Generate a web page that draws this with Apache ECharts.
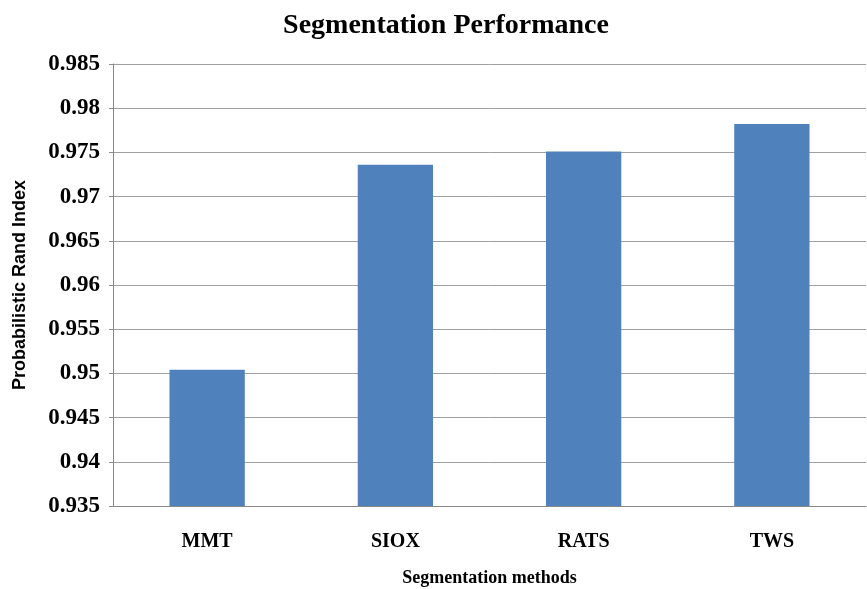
<!DOCTYPE html>
<html>
<head>
<meta charset="utf-8">
<script src="https://cdn.jsdelivr.net/npm/echarts@6/dist/echarts.min.js"></script>
<style>
  html, body { margin: 0; padding: 0; background: #fff; }
  #chart { width: 867px; height: 589px; }
</style>
</head>
<body>
<div id="chart"></div>
<script>
// values
const methods = ['MMT', 'SIOX', 'RATS', 'TWS'];
const randIndex = [0.9504, 0.9736, 0.9751, 0.9782];
const yMin = 0.935;
const yMax = 0.985;
const yStep = 0.005;

const serif = '"Liberation Serif", "Times New Roman", serif';

const chart = echarts.init(document.getElementById('chart'));

chart.setOption({
  animation: false,
  backgroundColor: '#ffffff',
  title: {
    text: 'Segmentation Performance',
    left: 441,
    textAlign: 'center',
    top: 7,
    textStyle: {fontFamily: serif, fontWeight: 'bold', fontSize: 28, color: '#000'}
  },
  grid: {left: 113, right: 1, top: 64, bottom: 83, outerBoundsMode: 'none'},
  xAxis: {
    type: 'category',
    data: methods,
    name: 'Segmentation methods',
    nameLocation: 'middle',
    nameGap: 63,
    nameTextStyle: {fontFamily: serif, fontWeight: 'bold', fontSize: 18, color: '#000'},
    axisLine: {lineStyle: {color: '#888', width: 1}},
    axisTick: {show: false},
    axisLabel: {fontFamily: serif, fontWeight: 'bold', fontSize: 20, color: '#000', margin: 26}
  },
  yAxis: {
    type: 'value',
    min: yMin,
    max: yMax,
    interval: yStep,
    name: 'Probabilistic Rand Index',
    nameLocation: 'middle',
    nameGap: 84,
    nameTextStyle: {fontFamily: 'Arial, "Liberation Sans", sans-serif', fontWeight: 'bold', fontSize: 18, color: '#000'},
    axisLine: {show: true, lineStyle: {color: '#888', width: 1}},
    axisTick: {show: true, length: 4, lineStyle: {color: '#888'}},
    axisLabel: {
      fontFamily: serif, fontWeight: 'bold', fontSize: 23, color: '#000', margin: 13,
      formatter: v => String(parseFloat(v.toFixed(3)))
    },
    splitLine: {lineStyle: {color: '#a0a0a0', width: 1}}
  },
  series: [{
    type: 'bar',
    data: randIndex,
    barWidth: '40%',
    itemStyle: {color: '#4f81bd'}
  }]
});
</script>
</body>
</html>
